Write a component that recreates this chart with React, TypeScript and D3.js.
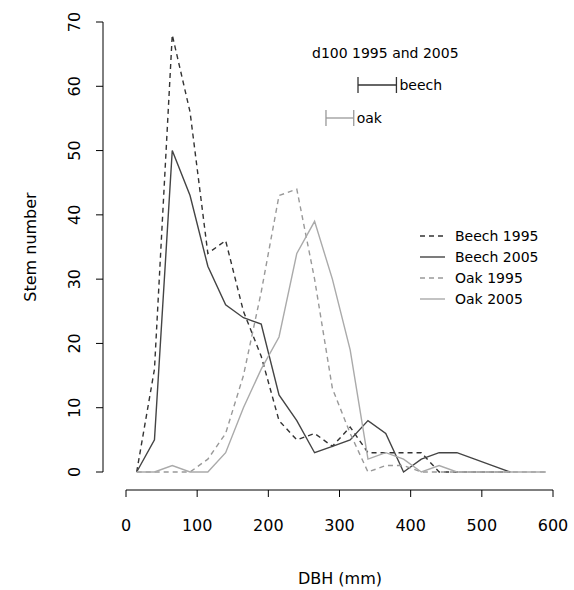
import * as d3 from "d3";

const dbh = d3.range(24).map((i) => 15 + 25 * i);
const beech1995 = [0, 16, 68, 56, 34, 36, 25, 18, 8, 5, 6, 4, 7, 3, 3, 3, 3, 0, 0, 0, 0, 0];
const beech2005 = [0, 5, 50, 43, 32, 26, 24, 23, 12, 8, 3, 4, 5, 8, 6, 0, 2, 3, 3, 2, 1, 0];
const oak1995 = [0, 0, 0, 0, 2, 6, 15, 28, 43, 44, 30, 13, 6, 0, 1, 1, 0, 0, 0, 0, 0, 0, 0, 0];
const oak2005 = [0, 0, 1, 0, 0, 3, 10, 16, 21, 34, 39, 30, 19, 2, 3, 2, 0, 1, 0, 0, 0, 0, 0, 0];
const xTicks = [0, 100, 200, 300, 400, 500, 600];
const yTicks = [0, 10, 20, 30, 40, 50, 60, 70];
const d100 = { beech: [326, 380], oak: [281, 320] };

const series = [
  { name: "Beech 1995", values: beech1995, color: "#333", dash: "5,4" },
  { name: "Beech 2005", values: beech2005, color: "#444", dash: "" },
  { name: "Oak 1995", values: oak1995, color: "#999", dash: "5,4" },
  { name: "Oak 2005", values: oak2005, color: "#aaa", dash: "" },
];

const font = "DejaVu Sans, Verdana, sans-serif";

export default function App() {
  const x = d3.scaleLinear().domain([0, 600]).range([126, 553]);
  const y = d3.scaleLinear().domain([0, 70]).range([472, 22]);
  const line = d3
    .line<number>()
    .x((_, i) => x(dbh[i]))
    .y((d) => y(d));
  return (
    <svg width={574} height={590} style={{ position: "absolute", left: 0, top: 0 }} fontFamily={font}>
      {/* y axis */}
      <line x1={103} x2={103} y1={y(0)} y2={y(70)} stroke="#000" />
      {yTicks.map((t) => (
        <g key={t}>
          <line x1={96} x2={103} y1={y(t)} y2={y(t)} stroke="#000" />
          <text transform={`translate(80,${y(t)}) rotate(-90)`} textAnchor="middle" fontSize={16}>
            {t}
          </text>
        </g>
      ))}
      {/* x axis */}
      <line x1={x(0)} x2={x(600)} y1={490} y2={490} stroke="#000" />
      {xTicks.map((t) => (
        <g key={t}>
          <line x1={x(t)} x2={x(t)} y1={490} y2={497} stroke="#000" />
          <text x={x(t)} y={531} textAnchor="middle" fontSize={16}>
            {t}
          </text>
        </g>
      ))}
      <text x={340} y={584} textAnchor="middle" fontSize={16}>DBH (mm)</text>
      <text transform="translate(36,247) rotate(-90)" textAnchor="middle" fontSize={16}>Stem number</text>
      {series.map((s) => (
        <path key={s.name} d={line(s.values) ?? ""} fill="none" stroke={s.color} strokeWidth={1.4} strokeDasharray={s.dash} />
      ))}
      {/* d100 annotation */}
      <text x={312} y={58} fontSize={14}>d100 1995 and 2005</text>
      {([
        ["beech", d100.beech, 85, "#333"],
        ["oak", d100.oak, 118, "#999"],
      ] as [string, number[], number, string][]).map(([name, r, yy, c]) => (
        <g key={name} stroke={c} strokeWidth={1.3}>
          <line x1={x(r[0])} x2={x(r[1])} y1={yy} y2={yy} />
          <line x1={x(r[0])} x2={x(r[0])} y1={yy - 8} y2={yy + 8} />
          <line x1={x(r[1])} x2={x(r[1])} y1={yy - 8} y2={yy + 8} />
          <text x={x(r[1]) + 3} y={yy + 5} fontSize={14} stroke="none" fill="#000">{name}</text>
        </g>
      ))}
      {/* legend */}
      {series.map((s, i) => (
        <g key={s.name} transform={`translate(420,${236 + i * 21})`}>
          <line x1={0} x2={25} y1={0} y2={0} stroke={s.color} strokeWidth={1.4} strokeDasharray={s.dash} />
          <text x={35} y={5} fontSize={14}>{s.name}</text>
        </g>
      ))}
    </svg>
  );
}
